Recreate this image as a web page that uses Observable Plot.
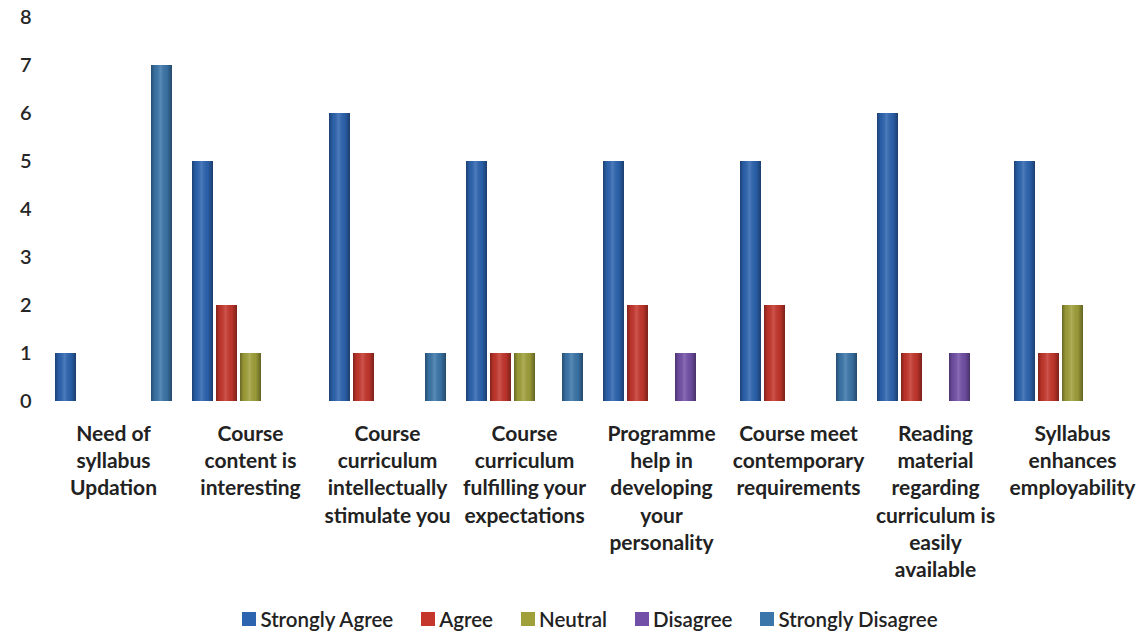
<!DOCTYPE html>
<html>
<head>
<meta charset="utf-8">
<script src="https://cdn.jsdelivr.net/npm/d3@7"></script>
<script src="https://cdn.jsdelivr.net/npm/@observablehq/plot@0.6"></script>
<style>
  body { margin: 0; background: #fff; font-family: Lato, "Noto Sans", sans-serif; }
  #chart svg { display: block; }
  #legend { display: flex; justify-content: center; align-items: center; height: 38px; padding-left: 36px; font-size: 20.5px; color: #222; font-weight: 600; }
  #legend .item { display: flex; align-items: center; margin-right: 28px; }
  #legend .item:last-child { margin-right: 0; }
  #legend .sw { width: 14px; height: 14px; margin-right: 4px; }
</style>
</head>
<body>
<div id="chart"></div>
<div id="legend"></div>
<script>
const categories = [
  "Need of syllabus Updation",
  "Course content is interesting",
  "Course curriculum intellectually stimulate you",
  "Course curriculum fulfilling your expectations",
  "Programme help in developing your personality",
  "Course meet contemporary requirements",
  "Reading material regarding curriculum is easily available",
  "Syllabus enhances employability"
];
const tickLabels = [
  "Need of\nsyllabus\nUpdation",
  "Course\ncontent is\ninteresting",
  "Course\ncurriculum\nintellectually\nstimulate you",
  "Course\ncurriculum\nfulfilling your\nexpectations",
  "Programme\nhelp in\ndeveloping\nyour\npersonality",
  "Course meet\ncontemporary\nrequirements",
  "Reading\nmaterial\nregarding\ncurriculum is\neasily\navailable",
  "Syllabus\nenhances\nemployability"
];
const series = ["Strongly Agree", "Agree", "Neutral", "Disagree", "Strongly Disagree"];
const stronglyAgree    = [1, 5, 6, 5, 5, 5, 6, 5];
const agree            = [0, 2, 1, 1, 2, 2, 1, 1];
const neutral          = [0, 1, 0, 1, 0, 0, 0, 2];
const disagree         = [0, 0, 0, 0, 1, 0, 1, 0];
const stronglyDisagree = [7, 0, 1, 1, 0, 1, 0, 0];
const yTicks = [0, 1, 2, 3, 4, 5, 6, 7, 8];
const colors = ["#2C64B0", "#C5362C", "#A0A03A", "#7350A8", "#3B76AA"];

const seriesValues = [stronglyAgree, agree, neutral, disagree, stronglyDisagree];
const rows = [];
categories.forEach((c, i) => {
  series.forEach((s, j) => {
    const v = seriesValues[j][i];
    if (v > 0) rows.push({category: c, series: s, value: v});
  });
});
const labelMap = new Map(categories.map((c, i) => [c, tickLabels[i]]));

const chart = Plot.plot({
  width: 1144,
  height: 600,
  marginTop: 17,
  marginLeft: 43,
  marginRight: 3,
  marginBottom: 199,
  style: {fontFamily: "Lato, 'Noto Sans', sans-serif", background: "#fff"},
  fx: {domain: categories, paddingInner: 0.11, paddingOuter: 0.05, label: null},
  x: {domain: series, paddingInner: 0.14, paddingOuter: 0.07, axis: null},
  y: {domain: [0, 8], label: null},
  color: {domain: series, range: colors},
  marks: [
    Plot.barY(rows, {fx: "category", x: "series", y: "value", fill: "series"}),
    Plot.barY(rows, {fx: "category", x: "series", y: "value", fill: "url(#shade)"}),
    Plot.axisY({ticks: yTicks, tickSize: 0, tickPadding: 21, fontSize: 20, fill: "#262626", fontWeight: 600, label: null}),
    Plot.axisFx({anchor: "bottom", tickSize: 0, tickPadding: 20, fontSize: 21, lineHeight: 1.3, fill: "#222", fontWeight: 700, label: null, tickFormat: d => labelMap.get(d)})
  ]
});

const defs = d3.select(chart).insert("defs", ":first-child");
const g = defs.append("linearGradient").attr("id", "shade").attr("x1", 0).attr("x2", 1).attr("y1", 0).attr("y2", 0);
[[0, "#000", 0.35], [0.18, "#000", 0.05], [0.45, "#fff", 0.15], [0.75, "#000", 0.05], [1, "#000", 0.38]].forEach(([o, c, a]) => {
  g.append("stop").attr("offset", o).attr("stop-color", c).attr("stop-opacity", a);
});

document.getElementById("chart").appendChild(chart);

const colorScale = chart.scale("color");
const legend = d3.select("#legend");
series.forEach(s => {
  const item = legend.append("div").attr("class", "item");
  item.append("div").attr("class", "sw").style("background", colorScale.apply(s));
  item.append("span").text(s);
});
</script>
</body>
</html>
